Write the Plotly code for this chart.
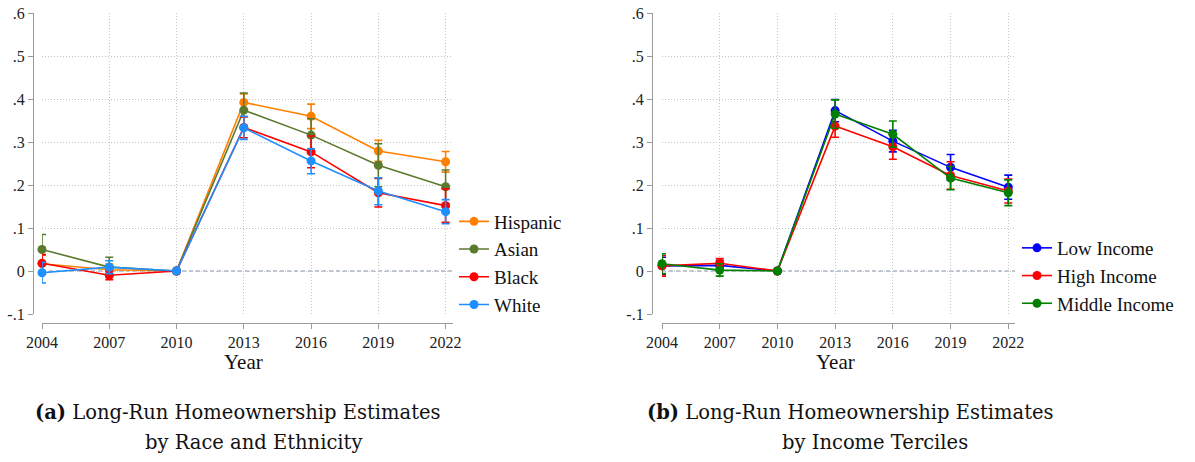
import plotly.graph_objects as go

# Survey years
years = [2004, 2007, 2010, 2013, 2016, 2019, 2022]

# Panel (a): estimates by race and ethnicity, with 95% CI bounds
hispanic = [0.017, 0.003, 0.0, 0.392, 0.360, 0.279, 0.254]
hispanic_lo = [-0.003, -0.010, 0.0, 0.372, 0.331, 0.255, 0.230]
hispanic_hi = [0.037, 0.016, 0.0, 0.412, 0.388, 0.304, 0.278]

asian = [0.050, 0.009, 0.0, 0.374, 0.316, 0.246, 0.196]
asian_lo = [0.016, -0.013, 0.0, 0.335, 0.278, 0.196, 0.157]
asian_hi = [0.085, 0.032, 0.0, 0.414, 0.354, 0.296, 0.235]

black = [0.018, -0.010, 0.0, 0.334, 0.277, 0.182, 0.152]
black_lo = [-0.002, -0.020, 0.0, 0.310, 0.240, 0.149, 0.113]
black_hi = [0.038, 0.000, 0.0, 0.358, 0.314, 0.215, 0.191]

white = [-0.004, 0.009, 0.0, 0.333, 0.256, 0.186, 0.138]
white_lo = [-0.028, -0.006, 0.0, 0.306, 0.226, 0.154, 0.110]
white_hi = [0.020, 0.024, 0.0, 0.360, 0.284, 0.217, 0.166]

# Panel (b): estimates by income tercile, with 95% CI bounds
low_inc = [0.012, 0.013, 0.0, 0.373, 0.302, 0.241, 0.195]
low_inc_lo = [-0.008, 0.001, 0.0, 0.347, 0.277, 0.211, 0.167]
low_inc_hi = [0.032, 0.025, 0.0, 0.399, 0.327, 0.271, 0.223]

high_inc = [0.012, 0.018, 0.0, 0.337, 0.289, 0.222, 0.186]
high_inc_lo = [-0.012, 0.007, 0.0, 0.311, 0.260, 0.190, 0.158]
high_inc_hi = [0.036, 0.029, 0.0, 0.363, 0.318, 0.254, 0.214]

mid_inc = [0.017, 0.002, 0.0, 0.365, 0.318, 0.216, 0.182]
mid_inc_lo = [-0.006, -0.012, 0.0, 0.332, 0.288, 0.189, 0.152]
mid_inc_hi = [0.040, 0.017, 0.0, 0.398, 0.349, 0.243, 0.212]

# Axis ticks
y_ticks = [-0.1, 0.0, 0.1, 0.2, 0.3, 0.4, 0.5, 0.6]
y_tick_text = ["-.1", "0", ".1", ".2", ".3", ".4", ".5", ".6"]
x_tick_text = [str(y) for y in years]

W, H = 1195, 462
SERIF = "Liberation Serif"
CAPTION_FONT = "DejaVu Serif"
AXIS_GREY = "#9a9a9a"
GRID = "#c4c4c4"


def px_x(p):
    return p / W


def px_y(p):
    return (H - p) / H


fig = go.Figure()


def add_series(name, vals, lo, hi, color, xa, ya, legend):
    plus = [h - v for h, v in zip(hi, vals)]
    minus = [v - l for v, l in zip(vals, lo)]
    fig.add_trace(go.Scatter(
        x=years, y=vals, name=name, mode="lines+markers",
        xaxis=xa, yaxis=ya, legend=legend,
        line=dict(color=color, width=1.6),
        marker=dict(color=color, size=9, symbol="circle"),
        error_y=dict(type="data", array=plus, arrayminus=minus,
                     color=color, thickness=1.6, width=4, visible=True),
        cliponaxis=False,
    ))


add_series("Hispanic", hispanic, hispanic_lo, hispanic_hi, "#ff8000", "x", "y", "legend")
add_series("Asian", asian, asian_lo, asian_hi, "#5a7a2e", "x", "y", "legend")
add_series("Black", black, black_lo, black_hi, "#ff0000", "x", "y", "legend")
add_series("White", white, white_lo, white_hi, "#1e8fff", "x", "y", "legend")

add_series("Low Income", low_inc, low_inc_lo, low_inc_hi, "#0000ff", "x2", "y2", "legend2")
add_series("High Income", high_inc, high_inc_lo, high_inc_hi, "#ff0000", "x2", "y2", "legend2")
add_series("Middle Income", mid_inc, mid_inc_lo, mid_inc_hi, "#008000", "x2", "y2", "legend2")

y_dom = [px_y(314), px_y(13)]
x_axis_pos = px_y(323)

common_x = dict(
    tickmode="array", tickvals=years, ticktext=x_tick_text,
    showgrid=True, gridcolor=GRID, griddash="1px,2px", gridwidth=1,
    showline=True, linecolor=AXIS_GREY, linewidth=1.2,
    ticks="outside", ticklen=5, tickcolor=AXIS_GREY, tickwidth=1.2,
    tickfont=dict(family=SERIF, size=16, color="#222222"),
    zeroline=False, anchor="free", position=x_axis_pos, automargin=False,
)
common_y = dict(
    tickmode="array", tickvals=y_ticks, ticktext=y_tick_text,
    range=[-0.1, 0.6], domain=y_dom,
    showgrid=True, gridcolor=GRID, griddash="1px,2px", gridwidth=1,
    showline=True, linecolor=AXIS_GREY, linewidth=1.2,
    ticks="outside", ticklen=5, tickcolor=AXIS_GREY, tickwidth=1.2,
    tickfont=dict(family=SERIF, size=16, color="#222222"),
    zeroline=False, anchor="free", automargin=False,
)

fig.update_layout(
    width=W, height=H,
    margin=dict(l=0, r=0, t=0, b=0, autoexpand=False),
    paper_bgcolor="white", plot_bgcolor="white",
    xaxis=dict(common_x, domain=[px_x(42), px_x(453)], range=[2004, 2022.33]),
    yaxis=dict(common_y, position=px_x(33)),
    xaxis2=dict(common_x, domain=[px_x(662), px_x(1015)], range=[2004, 2022.35]),
    yaxis2=dict(common_y, position=px_x(652)),
    legend=dict(
        x=px_x(454), y=px_y(202.5), xanchor="left", yanchor="top",
        font=dict(family=SERIF, size=19, color="#111111"),
        bgcolor="rgba(0,0,0,0)", itemwidth=30, tracegroupgap=0,
    ),
    legend2=dict(
        x=px_x(1017), y=px_y(229), xanchor="left", yanchor="top",
        font=dict(family=SERIF, size=19, color="#111111"),
        bgcolor="rgba(0,0,0,0)", itemwidth=30, tracegroupgap=0,
    ),
    showlegend=True,
)

# Dashed reference line at zero in each panel
for xa, ya in [("x", "y"), ("x2", "y2")]:
    fig.add_shape(type="line", xref=f"{xa} domain", yref=ya,
                  x0=0, x1=1, y0=0, y1=0, layer="below",
                  line=dict(color="#7f8fa6", width=1, dash="4px,3px"))

# Axis titles
for xa in ["x", "x2"]:
    fig.add_annotation(text="Year", xref=xa, yref="paper",
                       x=(years[0] + years[-1]) / 2, y=px_y(362),
                       showarrow=False, xanchor="center", yanchor="middle",
                       font=dict(family=SERIF, size=21, color="#111111"))

# Panel captions
captions = [
    ("<b>(a)</b> Long-Run Homeownership Estimates", 33, 412),
    ("by Race and Ethnicity", 143, 442),
    ("<b>(b)</b> Long-Run Homeownership Estimates", 645, 412),
    ("by Income Terciles", 780, 442),
]
for text, xp, yp in captions:
    fig.add_annotation(text=text, xref="paper", yref="paper",
                       x=px_x(xp), y=px_y(yp), showarrow=False,
                       xanchor="left", yanchor="middle",
                       font=dict(family=CAPTION_FONT, size=19.5, color="#111111"))

fig.write_html("out.html")
